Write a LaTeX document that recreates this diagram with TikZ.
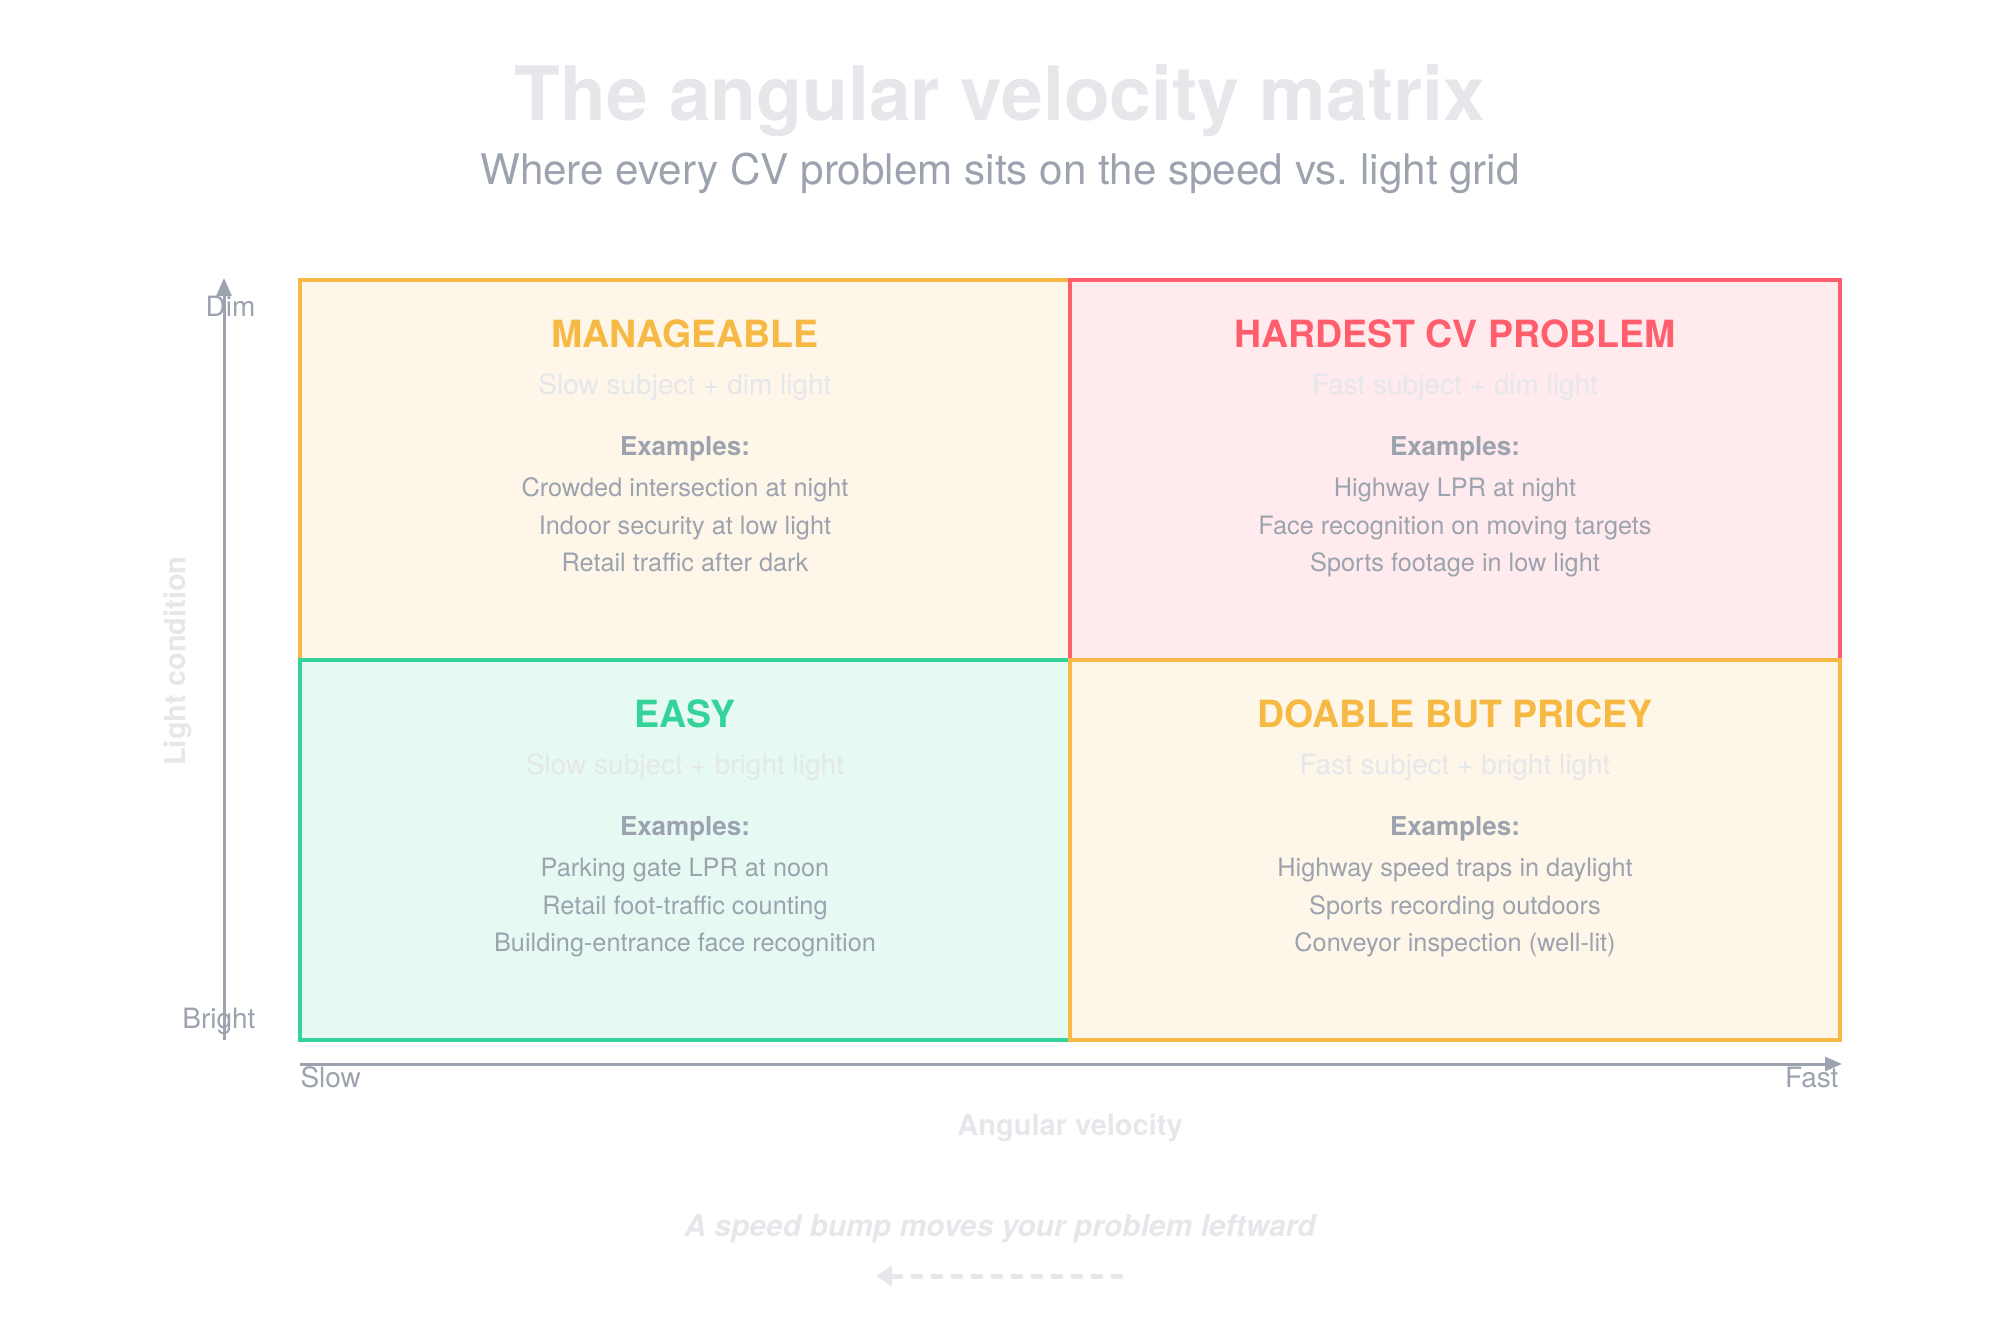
\documentclass[tikz,border=0pt]{standalone}
\usepackage{fontspec}
\setmainfont{TeX Gyre Heros}
\usetikzlibrary{arrows.meta}
\definecolor{axisgray}{HTML}{9CA3AF}
\definecolor{faint}{HTML}{E5E7EB}
\definecolor{amberline}{HTML}{F6B944}
\definecolor{amberfill}{HTML}{FEF6E9}
\definecolor{roseline}{HTML}{FF5F6D}
\definecolor{rosefill}{HTML}{FFEBEE}
\definecolor{mintline}{HTML}{34D399}
\definecolor{mintfill}{HTML}{E6FAF3}
\tikzset{
  cell/.style={line width=4pt},
  axisline/.style={axisgray,line width=3pt},
  qtitle/.style={anchor=base,font=\fontsize{37.5}{44}\selectfont\bfseries},
  qsub/.style={anchor=base,faint,font=\fontsize{28}{34}\selectfont},
  exhead/.style={anchor=base,axisgray,font=\fontsize{26}{31}\selectfont\bfseries},
  exline/.style={anchor=base,axisgray,font=\fontsize{25.3}{30}\selectfont},
  endlbl/.style={axisgray,font=\fontsize{28}{33}\selectfont},
  hint/.style={faint,font=\fontsize{29}{35}\selectfont\bfseries}
}

\begin{document}
\begin{tikzpicture}[x=1pt,y=-1pt]
\useasboundingbox (0,0) rectangle (2000,1320);
% heading
\node[anchor=base,faint,font=\fontsize{75}{90}\selectfont\bfseries] (title) at (1000,120) {The angular velocity matrix};
\node[anchor=base,axisgray,font=\fontsize{42.2}{50}\selectfont] (subtitle) at (1000,184) {Where every CV problem sits on the speed vs.\ light grid};
% the four cells
\draw[cell,amberline,fill=amberfill] (300,280) rectangle (1070,660);
\draw[cell,roseline,fill=rosefill] (1070,280) rectangle (1840,660);
\draw[cell,mintline,fill=mintfill] (300,660) rectangle (1070,1040);
\draw[cell,amberline,fill=amberfill] (1070,660) rectangle (1840,1040);
% slow + dim
\node[qtitle,amberline] (mtitle) at (685,347) {MANAGEABLE};
\node[qsub] (msub) at (685,394) {Slow subject + dim light};
\node[exhead] (mhead) at (685,455) {Examples:};
\node[exline] (mone) at (685,496) {Crowded intersection at night};
\node[exline] (mtwo) at (685,534) {Indoor security at low light};
\node[exline] (mthree) at (685,571) {Retail traffic after dark};
% fast + dim
\node[qtitle,roseline] (htitle) at (1455,347) {HARDEST CV PROBLEM};
\node[qsub] (hsub) at (1455,394) {Fast subject + dim light};
\node[exhead] (hhead) at (1455,455) {Examples:};
\node[exline] (hone) at (1455,496) {Highway LPR at night};
\node[exline] (htwo) at (1455,534) {Face recognition on moving targets};
\node[exline] (hthree) at (1455,571) {Sports footage in low light};
% slow + bright
\node[qtitle,mintline] (etitle) at (685,727) {EASY};
\node[qsub] (esub) at (685,774) {Slow subject + bright light};
\node[exhead] (ehead) at (685,835) {Examples:};
\node[exline] (eone) at (685,876) {Parking gate LPR at noon};
\node[exline] (etwo) at (685,914) {Retail foot-traffic counting};
\node[exline] (ethree) at (685,951) {Building-entrance face recognition};
% fast + bright
\node[qtitle,amberline] (dtitle) at (1455,727) {DOABLE BUT PRICEY};
\node[qsub] (dsub) at (1455,774) {Fast subject + bright light};
\node[exhead] (dhead) at (1455,835) {Examples:};
\node[exline] (done) at (1455,876) {Highway speed traps in daylight};
\node[exline] (dtwo) at (1455,914) {Sports recording outdoors};
\node[exline] (dthree) at (1455,951) {Conveyor inspection (well-lit)};
% axes
\coordinate (ybot) at (224,1040); \coordinate (ytop) at (224,278);
\draw[axisline,-{Triangle[length=18pt,width=15pt]}] (ybot) -- (ytop);
\coordinate (xleft) at (300,1064); \coordinate (xright) at (1842,1064);
\draw[axisline,-{Triangle[length=17pt,width=14pt]}] (xleft) -- (xright);
\node[endlbl,anchor=base east] (dim) at (259,316) {Dim};
\node[endlbl,anchor=base east] (bright) at (259,1028) {Bright};
\node[endlbl,anchor=base west] (slow) at (297,1087) {Slow};
\node[endlbl,anchor=base east] (fast) at (1842,1087) {Fast};
\node[hint,anchor=base] (xname) at (1070,1135) {Angular velocity};
\node[hint,anchor=base,rotate=90] (yname) at (185,661) {Light condition};
% footer
\node[anchor=base,faint,font=\fontsize{30}{36}\selectfont\bfseries\itshape] (note) at (1000,1236) {A speed bump moves your problem leftward};
\coordinate (bumpfrom) at (1121,1276); \coordinate (bumpto) at (876,1276);
\draw[faint,line width=5pt,line cap=round,dash pattern=on 8pt off 12pt,-{Triangle[length=16pt,width=20pt]}] (bumpfrom) -- (bumpto);
\end{tikzpicture}
\end{document}
